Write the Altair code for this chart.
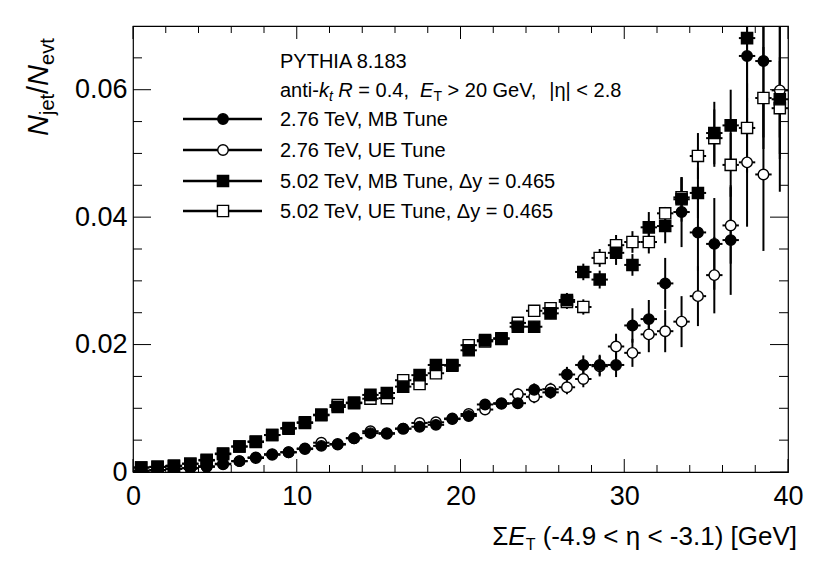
import re
import altair as alt
import pandas as pd

FONT = "Liberation Sans, Arial, Helvetica, sans-serif"

# ---------------- data ----------------
x_centers = [0.5, 1.5, 2.5, 3.5, 4.5, 5.5, 6.5, 7.5, 8.5, 9.5,
             10.5, 11.5, 12.5, 13.5, 14.5, 15.5, 16.5, 17.5, 18.5, 19.5,
             20.5, 21.5, 22.5, 23.5, 24.5, 25.5, 26.5, 27.5, 28.5, 29.5,
             30.5, 31.5, 32.5, 33.5, 34.5, 35.5, 36.5, 37.5, 38.5, 39.5]

mb276 = [0.0002, 0.0003, 0.0005, 0.0006, 0.0008, 0.0013, 0.0017, 0.0023, 0.0027, 0.0031,
         0.0037, 0.0041, 0.0043, 0.0053, 0.0061, 0.0060, 0.0068, 0.0071, 0.0074, 0.0084,
         0.0088, 0.0106, 0.0108, 0.0108, 0.0129, 0.0125, 0.0153, 0.0168, 0.0168, 0.0168,
         0.0230, 0.0240, 0.0296, 0.0408, 0.0376, 0.0358, 0.0364, 0.0653, 0.0645, 0.0760]
ue276 = [0.0002, 0.0003, 0.0005, 0.0006, 0.0009, 0.0012, 0.0017, 0.0022, 0.0028, 0.0031,
         0.0036, 0.0046, 0.0044, 0.0053, 0.0064, 0.0061, 0.0068, 0.0077, 0.0078, 0.0083,
         0.0091, 0.0098, 0.0107, 0.0122, 0.0118, 0.0130, 0.0133, 0.0146, 0.0166, 0.0197,
         0.0187, 0.0216, 0.0221, 0.0236, 0.0276, 0.0309, 0.0387, 0.0486, 0.0467, 0.0599]
mb502 = [0.0007, 0.0008, 0.0009, 0.0013, 0.0018, 0.0029, 0.0040, 0.0047, 0.0058, 0.0069,
         0.0077, 0.0090, 0.0102, 0.0108, 0.0121, 0.0124, 0.0134, 0.0152, 0.0168, 0.0168,
         0.0191, 0.0207, 0.0210, 0.0228, 0.0228, 0.0249, 0.0270, 0.0314, 0.0302, 0.0344,
         0.0325, 0.0384, 0.0386, 0.0428, 0.0438, 0.0532, 0.0544, 0.0681, 0.0750, 0.0585]
ue502 = [0.0007, 0.0008, 0.0010, 0.0013, 0.0019, 0.0028, 0.0040, 0.0048, 0.0058, 0.0068,
         0.0078, 0.0089, 0.0105, 0.0109, 0.0115, 0.0116, 0.0144, 0.0138, 0.0155, 0.0167,
         0.0199, 0.0205, 0.0209, 0.0234, 0.0253, 0.0257, 0.0267, 0.0259, 0.0336, 0.0356,
         0.0361, 0.0361, 0.0406, 0.0431, 0.0496, 0.0524, 0.0482, 0.0540, 0.0587, 0.0571]

err_mb276 = [0.0001, 0.0001, 0.0002, 0.0002, 0.0002, 0.0003, 0.0003, 0.0003, 0.0004, 0.0004,
             0.0004, 0.0004, 0.0005, 0.0005, 0.0005, 0.0005, 0.0006, 0.0006, 0.0006, 0.0007,
             0.0007, 0.0008, 0.0008, 0.0009, 0.0010, 0.0010, 0.0012, 0.0015, 0.0016, 0.0019,
             0.0027, 0.0030, 0.0040, 0.0055, 0.0060, 0.0072, 0.0086, 0.0120, 0.0120, 0.0320]
err_ue276 = [0.0001, 0.0001, 0.0002, 0.0002, 0.0002, 0.0003, 0.0003, 0.0003, 0.0004, 0.0004,
             0.0004, 0.0004, 0.0005, 0.0005, 0.0005, 0.0005, 0.0006, 0.0006, 0.0006, 0.0007,
             0.0007, 0.0008, 0.0008, 0.0009, 0.0010, 0.0010, 0.0011, 0.0013, 0.0016, 0.0020,
             0.0022, 0.0028, 0.0033, 0.0040, 0.0047, 0.0060, 0.0060, 0.0101, 0.0120, 0.0100]
err_mb502 = [0.0001, 0.0001, 0.0002, 0.0002, 0.0002, 0.0003, 0.0003, 0.0003, 0.0004, 0.0004,
             0.0004, 0.0004, 0.0005, 0.0005, 0.0005, 0.0005, 0.0006, 0.0006, 0.0006, 0.0006,
             0.0006, 0.0007, 0.0007, 0.0008, 0.0008, 0.0009, 0.0011, 0.0013, 0.0014, 0.0019,
             0.0017, 0.0024, 0.0027, 0.0035, 0.0040, 0.0049, 0.0056, 0.0100, 0.0100, 0.0060]
err_ue502 = [0.0001, 0.0001, 0.0002, 0.0002, 0.0002, 0.0003, 0.0003, 0.0003, 0.0004, 0.0004,
             0.0004, 0.0004, 0.0005, 0.0005, 0.0005, 0.0005, 0.0006, 0.0006, 0.0006, 0.0006,
             0.0006, 0.0007, 0.0007, 0.0008, 0.0009, 0.0009, 0.0011, 0.0012, 0.0014, 0.0016,
             0.0017, 0.0018, 0.0010, 0.0030, 0.0036, 0.0045, 0.0050, 0.0070, 0.0080, 0.0080]

series_names = ["2.76 TeV, MB Tune", "2.76 TeV, UE Tune",
                "5.02 TeV, MB Tune, \u0394y = 0.465", "5.02 TeV, UE Tune, \u0394y = 0.465"]

x_major = [0, 10, 20, 30, 40]
x_minor = [2, 4, 6, 8, 12, 14, 16, 18, 22, 24, 26, 28, 32, 34, 36, 38]
y_major = [0, 0.02, 0.04, 0.06]
y_minor = [0.005, 0.01, 0.015, 0.025, 0.03, 0.035, 0.045, 0.05, 0.055, 0.065]

# ---------------- layout ----------------
W, H = 655, 446
xs = alt.Scale(domain=[0, 40], nice=False, zero=False)
ys = alt.Scale(domain=[0, 0.07], nice=False, zero=False)

x_axis = alt.Axis(values=x_major, ticks=False, domain=False, grid=False, title=None,
                  labelFont=FONT, labelFontSize=27, labelColor="black", labelPadding=11,
                  labelFlush=False, format="d")
y_axis = alt.Axis(values=y_major, ticks=False, domain=False, grid=False, title=None,
                  labelFont=FONT, labelFontSize=27, labelColor="black", labelPadding=6,
                  labelFlush=False,
                  labelExpr="datum.value == 0 ? '0' : format(datum.value, '.2f')")


def X(f):
    return alt.X(f, type="quantitative", scale=xs, axis=x_axis)


def Y(f):
    return alt.Y(f, type="quantitative", scale=ys, axis=y_axis)


def sdf(name, vals, errs):
    return pd.DataFrame({"x": x_centers, "y": vals, "e": errs, "s": name})


df = pd.concat([sdf(series_names[0], mb276, err_mb276),
                sdf(series_names[1], ue276, err_ue276),
                sdf(series_names[2], mb502, err_mb502),
                sdf(series_names[3], ue502, err_ue502)], ignore_index=True)

base = alt.Chart(df).transform_calculate(
    lo="datum.y - datum.e", hi="datum.y + datum.e",
    xl="datum.x - 0.5", xr="datum.x + 0.5")

vbars = base.mark_rule(color="black", strokeWidth=2, clip=True).encode(
    x=X("x"), y=Y("lo"), y2="hi:Q")
hbars = base.mark_rule(color="black", strokeWidth=2, clip=True).encode(
    x=X("xl"), x2="xr:Q", y=Y("y"))

CIRC = 110
SQR = 125


def markers(name, shape, filled):
    props = dict(shape=shape, size=CIRC if shape == "circle" else SQR, opacity=1,
                 filled=True, clip=True, stroke="black", strokeWidth=1.4,
                 fill="black" if filled else "white")
    return alt.Chart(df).transform_filter(alt.datum.s == name).mark_point(**props).encode(
        x=X("x"), y=Y("y"))


pts = [markers(series_names[1], "circle", False),
       markers(series_names[3], "square", False),
       markers(series_names[0], "circle", True),
       markers(series_names[2], "square", True)]

# ---------------- inward ticks (ROOT style) ----------------
def tick_df(v):
    return pd.DataFrame({"v": v})


tick_layers = []
for vals, ln in ((x_major, 13), (x_minor, 7)):
    for y0, y1 in ((H, H - ln), (0, ln)):
        tick_layers.append(alt.Chart(tick_df(vals)).mark_rule(color="black", strokeWidth=1).encode(
            x=X("v"), y=alt.value(y0), y2=alt.value(y1)))
for vals, ln in ((y_major, 18), (y_minor, 9)):
    for x0, x1 in ((0, ln), (W, W - ln)):
        tick_layers.append(alt.Chart(tick_df(vals)).mark_rule(color="black", strokeWidth=1).encode(
            y=Y("v"), x=alt.value(x0), x2=alt.value(x1)))

# ---------------- rich text helper ----------------
CW = {' ': 278, '(': 333, ')': 333, ',': 278, '-': 333, '.': 278, '/': 278, '<': 584, '=': 584,
      '>': 584, '[': 278, ']': 278, '|': 260, 'A': 667, 'B': 667, 'E': 667, 'G': 778, 'H': 722,
      'I': 278, 'M': 833, 'N': 722, 'P': 667, 'R': 722, 'T': 611, 'U': 722, 'V': 667, 'Y': 667,
      'a': 556, 'e': 556, 'i': 222, 'j': 222, 'k': 500, 'n': 556, 't': 278, 'u': 556, 'v': 500,
      'y': 500, '\u03a3': 617, '\u0394': 668, '\u03b7': 556}


def tw(s, size):
    return sum(CW.get(c, 556) for c in s) / 1000.0 * size


one = pd.DataFrame({"k": [0]})


def txt(t, x, y, size, italic=False, angle=0):
    return alt.Chart(one).mark_text(
        text=t, font=FONT, fontSize=size, fontStyle="italic" if italic else "normal",
        align="left", baseline="alphabetic", angle=angle, color="black").encode(
        x=alt.value(x), y=alt.value(y))


def rich(parts, x0, y0, vertical=False):
    """Place styled pieces one after another; runs of 2+ spaces and
    leading/trailing spaces become explicit offsets (SVG collapses them)."""
    out = []
    pos = 0.0
    for text, size, italic, dy in parts:
        for seg in re.split(r'(^ +| {2,}| +$)', text):
            if seg == "":
                continue
            if not seg.strip() == "":
                if vertical:
                    out.append(txt(seg, x0 + dy, y0 - pos, size, italic, 270))
                else:
                    out.append(txt(seg, x0 + pos, y0 + dy, size, italic))
            pos += tw(seg, size)
    return out


def rich_width(parts):
    return sum(tw(t, s) for t, s, _, _ in parts)


L = 133  # page x of plot left edge
T = 26   # page y of plot top edge

texts = []
# header lines
texts += rich([("PYTHIA 8.183", 20, False, 0)], 280 - L, 68 - T)
texts += rich([("anti-", 20, False, 0), ("k", 20, True, 0), ("t", 14, True, 4),
               (" ", 20, False, 0), ("R", 20, True, 0), (" = 0.4,  ", 20, False, 0),
               ("E", 20, True, 0), ("T", 14, False, 4),
               (" > 20 GeV,  |\u03b7| < 2.8", 20, False, 0)], 280 - L, 97 - T)

# x-axis title (right aligned near the frame end)
xparts = [("\u03a3", 26, False, 0), ("E", 26, True, 0), ("T", 16, False, 5),
          (" (-4.9 < \u03b7 < -3.1) [GeV]", 26, False, 0)]
texts += rich(xparts, 797 - L - rich_width(xparts), 545 - T)

# y-axis title (rotated)
yparts = [("N", 29, True, 0), ("jet", 20, False, 6), ("/", 29, False, 0),
          ("N", 29, True, 0), ("evt", 20, False, 6)]
texts += rich(yparts, 48 - L, 136 - T, vertical=True)

# legend
leg_rows = [119, 150, 181, 211]
leg_style = [("circle", True), ("circle", False), ("square", True), ("square", False)]
legend = []
for name, row, (shape, filled) in zip(series_names, leg_rows, leg_style):
    legend.append(alt.Chart(one).mark_rule(color="black", strokeWidth=2.5).encode(
        x=alt.value(183 - L), x2=alt.value(262 - L), y=alt.value(row - T)))
    legend.append(alt.Chart(one).mark_point(
        shape=shape, size=CIRC if shape == "circle" else SQR, opacity=1, filled=True,
        stroke="black", strokeWidth=1.4, fill="black" if filled else "white").encode(
        x=alt.value(223 - L), y=alt.value(row - T)))
    legend += rich([(name, 20, False, 0)], 280 - L, row + 7 - T)

chart = alt.layer(vbars, hbars, *pts, *tick_layers, *legend, *texts).properties(
    width=W, height=H,
    padding={"left": L - 8, "top": T - 8, "right": 25, "bottom": 90},
    autosize=alt.AutoSizeParams(type="none"),
).configure_view(stroke="black", strokeWidth=1.2).configure_axis(grid=False)

chart.save("out.html", embed_options={"renderer": "svg", "actions": False})
